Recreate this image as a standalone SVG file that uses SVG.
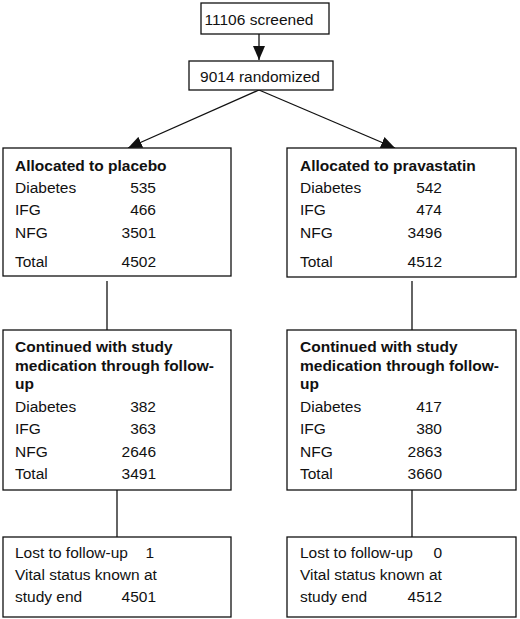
<svg xmlns="http://www.w3.org/2000/svg" width="520" height="619" viewBox="0 0 520 619">
<style>
  .box { fill: #fff; stroke: #111; stroke-width: 1.3; }
  .t { font-family: "Liberation Sans", Arial, sans-serif; font-size: 15.5px; fill: #111; }
  .b { font-weight: bold; }
  .r { text-anchor: end; }
  .c { text-anchor: middle; }
  .ln { stroke: #111; stroke-width: 1.3; fill: none; }
</style>
<defs>
  <marker id="ah" markerUnits="userSpaceOnUse" markerWidth="14" markerHeight="12" refX="14" refY="6" orient="auto">
    <path d="M0,0 L14,6 L0,12 Z" fill="#111"/>
  </marker>
</defs>
<rect width="520" height="619" fill="#fff"/>
<g id="connectors">
  <line class="ln" x1="259" y1="34" x2="259" y2="60" marker-end="url(#ah)"/>
  <line class="ln" x1="259" y1="90" x2="128" y2="148" marker-end="url(#ah)"/>
  <line class="ln" x1="259" y1="90" x2="395" y2="148" marker-end="url(#ah)"/>
  <line class="ln" x1="107" y1="281" x2="107" y2="330"/>
  <line class="ln" x1="412" y1="281" x2="412" y2="330"/>
  <line class="ln" x1="117" y1="490" x2="117" y2="537"/>
  <line class="ln" x1="412" y1="490" x2="412" y2="537"/>
</g>
<g id="screened">
  <rect class="box" x="201" y="3" width="128" height="31"/>
  <text class="t c" x="259" y="25">11106 screened</text>
</g>
<g id="randomized">
  <rect class="box" x="189" y="61" width="144" height="29"/>
  <text class="t c" x="260" y="82">9014 randomized</text>
</g>
<g id="placebo">
  <rect class="box" x="3" y="148" width="228" height="128"/>
  <text class="t b" x="15" y="171">Allocated to placebo</text>
  <text class="t" x="15" y="193">Diabetes</text><text class="t r" x="156" y="193">535</text>
  <text class="t" x="15" y="215">IFG</text><text class="t r" x="156" y="215">466</text>
  <text class="t" x="15" y="238">NFG</text><text class="t r" x="156" y="238">3501</text>
  <text class="t" x="15" y="267">Total</text><text class="t r" x="156" y="267">4502</text>
</g>
<g id="pravastatin">
  <rect class="box" x="287" y="148" width="229" height="129"/>
  <text class="t b" x="300" y="171">Allocated to pravastatin</text>
  <text class="t" x="300" y="193">Diabetes</text><text class="t r" x="442" y="193">542</text>
  <text class="t" x="300" y="215">IFG</text><text class="t r" x="442" y="215">474</text>
  <text class="t" x="300" y="238">NFG</text><text class="t r" x="442" y="238">3496</text>
  <text class="t" x="300" y="267">Total</text><text class="t r" x="442" y="267">4512</text>
</g>
<g id="continued-placebo">
  <rect class="box" x="3" y="330" width="228" height="160"/>
  <text class="t b" x="15" y="352">Continued with study</text>
  <text class="t b" x="15" y="371">medication through follow-</text>
  <text class="t b" x="15" y="389">up</text>
  <text class="t" x="15" y="412">Diabetes</text><text class="t r" x="156" y="412">382</text>
  <text class="t" x="15" y="434">IFG</text><text class="t r" x="156" y="434">363</text>
  <text class="t" x="15" y="457">NFG</text><text class="t r" x="156" y="457">2646</text>
  <text class="t" x="15" y="479">Total</text><text class="t r" x="156" y="479">3491</text>
</g>
<g id="continued-pravastatin">
  <rect class="box" x="287" y="330" width="229" height="160"/>
  <text class="t b" x="300" y="352">Continued with study</text>
  <text class="t b" x="300" y="371">medication through follow-</text>
  <text class="t b" x="300" y="389">up</text>
  <text class="t" x="300" y="412">Diabetes</text><text class="t r" x="442" y="412">417</text>
  <text class="t" x="300" y="434">IFG</text><text class="t r" x="442" y="434">380</text>
  <text class="t" x="300" y="457">NFG</text><text class="t r" x="442" y="457">2863</text>
  <text class="t" x="300" y="479">Total</text><text class="t r" x="442" y="479">3660</text>
</g>
<g id="vital-placebo">
  <rect class="box" x="3" y="537" width="228" height="80"/>
  <text class="t" x="15" y="558">Lost to follow-up</text><text class="t r" x="154" y="558">1</text>
  <text class="t" x="15" y="580">Vital status known at</text>
  <text class="t" x="15" y="602">study end</text><text class="t r" x="156" y="602">4501</text>
</g>
<g id="vital-pravastatin">
  <rect class="box" x="287" y="537" width="229" height="80"/>
  <text class="t" x="300" y="558">Lost to follow-up</text><text class="t r" x="442" y="558">0</text>
  <text class="t" x="300" y="580">Vital status known at</text>
  <text class="t" x="300" y="602">study end</text><text class="t r" x="442" y="602">4512</text>
</g>
</svg>
